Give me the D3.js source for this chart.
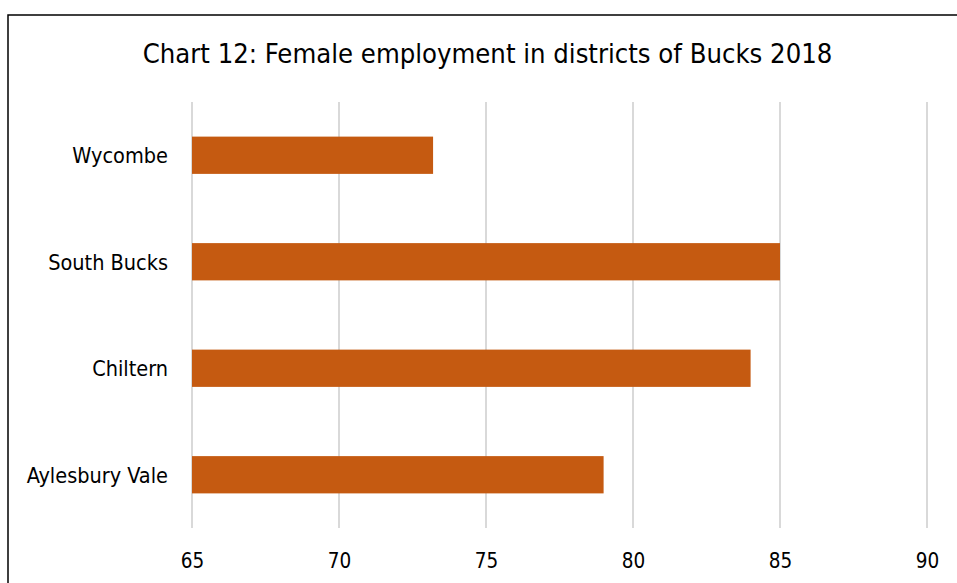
<!DOCTYPE html>
<html>
<head>
<meta charset="utf-8">
<script src="https://cdn.jsdelivr.net/npm/d3@7"></script>
<style>
  body { margin: 0; background: #fff; }
</style>
</head>
<body>
<script>
// female employment rate (%) by district, 2018
const districts = ["Wycombe", "South Bucks", "Chiltern", "Aylesbury Vale"];
const employment = [73.2, 85.0, 84.0, 79.0];
const xTicks = [65, 70, 75, 80, 85, 90];

const width = 957;
const height = 583;
const margin = {top: 102, right: 30, bottom: 55, left: 192};
const font = "'DejaVu Sans Condensed', 'DejaVu Sans', sans-serif";

const data = districts.map((d, i) => ({name: d, value: employment[i]}));

const svg = d3.select("body").append("svg")
  .attr("width", width)
  .attr("height", height);

// chart frame
svg.append("rect")
  .attr("x", 8)
  .attr("y", 15)
  .attr("width", width)
  .attr("height", height)
  .attr("fill", "none")
  .attr("stroke", "#000")
  .attr("stroke-width", 1.5);

svg.append("text")
  .attr("x", 487.5)
  .attr("y", 63)
  .attr("text-anchor", "middle")
  .attr("font-family", font)
  .attr("font-size", "27.2px")
  .attr("fill", "#000")
  .text("Chart 12: Female employment in districts of Bucks 2018");

const xscale = d3.scaleLinear()
  .domain([65, 90])
  .range([margin.left, 927]);

const yscale = d3.scaleBand()
  .domain(districts)
  .range([margin.top, 528])
  .paddingInner(0.65)
  .paddingOuter(0.325);

// vertical gridlines
svg.append("g")
  .selectAll("line")
  .data(xTicks)
  .enter()
  .append("line")
  .attr("x1", d => xscale(d))
  .attr("x2", d => xscale(d))
  .attr("y1", margin.top)
  .attr("y2", 528)
  .attr("stroke", "#d9d9d9")
  .attr("stroke-width", 2);

svg.selectAll("rect.bar")
  .data(data)
  .enter()
  .append("rect")
  .attr("class", "bar")
  .attr("x", xscale(65))
  .attr("y", d => yscale(d.name))
  .attr("width", d => xscale(d.value) - xscale(65))
  .attr("height", yscale.bandwidth())
  .attr("fill", "#c55a11");

const xaxis = d3.axisBottom(xscale)
  .tickValues(xTicks)
  .tickSize(0)
  .tickPadding(0);

svg.append("g")
  .attr("transform", "translate(0, 553)")
  .call(xaxis)
  .call(g => g.select(".domain").remove())
  .selectAll("text")
  .attr("dy", "0.73em")
  .attr("font-family", font)
  .attr("font-size", "20.5px")
  .attr("fill", "#000");

const yaxis = d3.axisLeft(yscale)
  .tickSize(0)
  .tickPadding(24);

svg.append("g")
  .attr("transform", `translate(${margin.left}, 0)`)
  .call(yaxis)
  .call(g => g.select(".domain").remove())
  .selectAll("text")
  .attr("dy", "0.37em")
  .attr("font-family", font)
  .attr("font-size", "21.5px")
  .attr("fill", "#000");
</script>
</body>
</html>
